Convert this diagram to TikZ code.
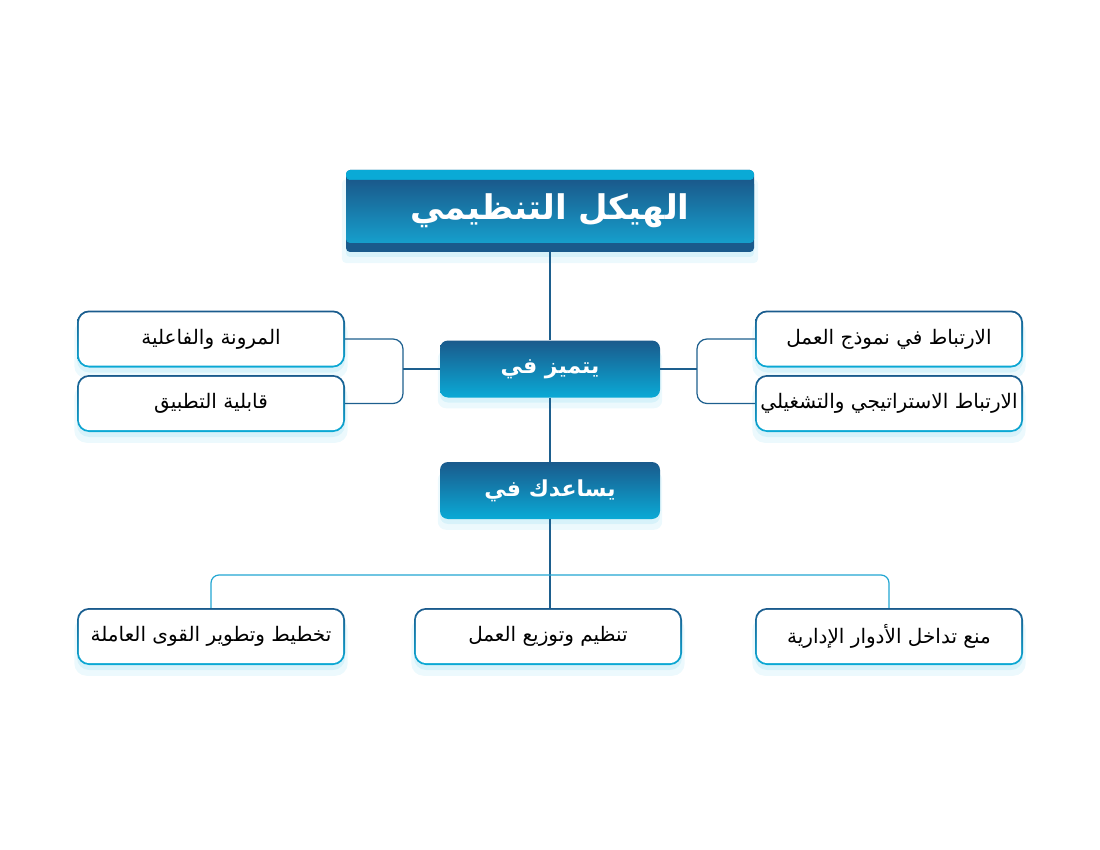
\documentclass[tikz,border=0pt]{standalone}
\usepackage{fontspec}
\usetikzlibrary{shadows}
\TeXXeTstate=1
\newfontfamily\arabicfont[Script=Arabic]{DejaVu Sans}
\newcommand{\artext}[1]{{\arabicfont\beginR #1\endR}}
\definecolor{hdark}{HTML}{1A5A8C}
\definecolor{hcyan}{HTML}{0AAAD6}
\definecolor{hlight}{HTML}{169FCC}
\definecolor{linedark}{HTML}{1D5F8E}
\definecolor{linecyan}{HTML}{22A6D2}
\definecolor{glow}{HTML}{C9EEF8}
\tikzset{
  glowshadow/.style={
    drop shadow={shadow xshift=0pt, shadow yshift=-10pt, shadow scale=1.02, fill=glow, opacity=0.35},
    drop shadow={shadow xshift=0pt, shadow yshift=-5pt, fill=glow, opacity=0.6}},
  titlebox/.style={rounded corners=4pt, minimum width=408pt, minimum height=82pt, inner sep=0pt,
    glowshadow, fill=hdark, text=white, font=\fontsize{34}{40}\selectfont\bfseries,
    path picture={
      \fill[hcyan] (path picture bounding box.north west) rectangle ([yshift=-10pt]path picture bounding box.north east);
      \shade[top color=hdark, bottom color=hlight] ([yshift=-10pt]path picture bounding box.north west) rectangle ([yshift=9pt]path picture bounding box.south east);
    }},
  bluebox/.style={rounded corners=8pt, minimum width=220pt, minimum height=57pt, inner sep=0pt,
    glowshadow, top color=hdark, bottom color=hcyan, text=white, font=\fontsize{22}{26}\selectfont\bfseries},
  whitebox/.style={rounded corners=12pt, minimum width=268pt, minimum height=57pt, inner sep=0pt,
    glowshadow, fill=white, font=\fontsize{20}{24}\selectfont,
    path picture={
      \shade[top color=hdark, bottom color=hcyan] (path picture bounding box.south west) rectangle (path picture bounding box.north east);
      \fill[white, rounded corners=10.5pt] ([shift={(1.8pt,-1.8pt)}]path picture bounding box.north west) rectangle ([shift={(-1.8pt,1.8pt)}]path picture bounding box.south east);
    }},
  link/.style={draw=linedark, line width=1.2pt},
  branch/.style={draw=linecyan, line width=1.2pt, rounded corners=8pt}
}
\begin{document}
\begin{tikzpicture}[x=1pt, y=-1pt]
    \useasboundingbox (0,0) rectangle (1100,850);

    \node[titlebox] (title) at (550,211) {\artext{الهيكل التنظيمي}};
    \node[bluebox] (feat) at (550,369) {\artext{يتميز في}};
    \node[bluebox] (help) at (550,490.5) {\artext{يساعدك في}};

    \node[whitebox] (flex) at (211,339) {\artext{المرونة والفاعلية}};
    \node[whitebox] (apply) at (211,403.5) {\artext{قابلية التطبيق}};
    \node[whitebox] (model) at (889,339) {\artext{الارتباط في نموذج العمل}};
    \node[whitebox] (strat) at (889,403.5) {\artext{الارتباط الاستراتيجي والتشغيلي}};

    \node[whitebox] (plan) at (211,636.5) {\artext{تخطيط وتطوير القوى العاملة}};
    \node[whitebox] (org) at (548,636.5) {\artext{تنظيم وتوزيع العمل}};
    \node[whitebox] (roles) at (889,636.5) {\artext{منع تداخل الأدوار الإدارية}};

    \coordinate (lj) at (403,369);
    \coordinate (rj) at (697,369);
    \coordinate (hub) at (550,575);

    \draw[link] (title.south) -- (feat.north);
    \draw[link] (feat.south) -- (help.north);
    \draw[link] (help.south) -- (hub) -- (hub |- org.north);

    \draw[link] (feat.west) -- (lj);
    \draw[link, rounded corners=10pt] (flex.east) -| (lj) |- (apply.east);
    \draw[link] (feat.east) -- (rj);
    \draw[link, rounded corners=10pt] (model.west) -| (rj) |- (strat.west);

    \draw[branch] (hub) -| (plan.north);
    \draw[branch] (hub) -| (roles.north);
\end{tikzpicture}
\end{document}
